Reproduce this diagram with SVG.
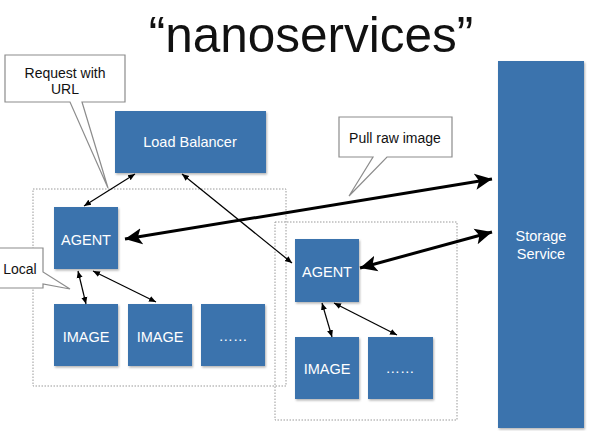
<svg xmlns="http://www.w3.org/2000/svg" width="593" height="431" viewBox="0 0 593 431">
<defs>
<marker id="ah" markerWidth="8" markerHeight="8" refX="7" refY="4" orient="auto-start-reverse" markerUnits="userSpaceOnUse">
<path d="M0,1 L7,4 L0,7 Z" fill="#000"/>
</marker>
<marker id="ahb" markerWidth="20" markerHeight="18" refX="17" refY="9" orient="auto-start-reverse" markerUnits="userSpaceOnUse">
<path d="M0,1 L17,9 L0,17 L4,9 Z" fill="#000"/>
</marker>
<filter id="sh" x="-10%" y="-10%" width="130%" height="130%">
<feDropShadow dx="1" dy="1.5" stdDeviation="1" flood-color="#000" flood-opacity="0.3"/>
</filter>
</defs>
<style>
.box{fill:#3b73ad;filter:url(#sh)}
.lbl{font-family:"Liberation Sans",Arial,sans-serif;font-size:14.5px;fill:#fff;text-anchor:middle}
.call{fill:#fff;stroke:#8c8c8c;stroke-width:1.2}
.ctxt{font-family:"Liberation Sans",Arial,sans-serif;font-size:14px;fill:#111;text-anchor:middle}
.cont{fill:none;stroke:#999;stroke-width:1;stroke-dasharray:1.5,1.5}
.thin{stroke:#000;stroke-width:1.2;fill:none;marker-start:url(#ah);marker-end:url(#ah)}
.thick{stroke:#000;stroke-width:3;fill:none;marker-start:url(#ahb);marker-end:url(#ahb)}
</style>
<rect width="593" height="431" fill="#fff"/>
<text x="311" y="52" font-family="Liberation Sans,Arial,sans-serif" font-size="49.5" fill="#111" text-anchor="middle">“nanoservices”</text>

<g id="container1"><rect class="cont" x="33" y="189" width="253" height="197"/></g>
<g id="container2"><rect class="cont" x="275" y="222" width="182" height="198"/></g>

<g id="callout-request"><path class="call" d="M5,55 H125 V102 H82 L108,188 L70,102 H5 Z"/><text class="ctxt" x="65" y="78">Request with</text><text class="ctxt" x="65" y="94">URL</text></g>
<g id="callout-local"><path class="call" d="M-2,248 H43 V272 L70,289 L43,284 V288 H-2 Z"/><text class="ctxt" x="20" y="274">Local</text></g>
<g id="callout-pull"><path class="call" d="M339,117 H452 V157 H387 L349,196 L373,157 H339 Z"/><text class="ctxt" x="395" y="143">Pull raw image</text></g>

<g id="load-balancer"><rect class="box" x="115" y="111" width="151" height="62"/><text class="lbl" x="190" y="147">Load Balancer</text></g>
<g id="agent1"><rect class="box" x="54" y="207" width="64" height="62"/><text class="lbl" x="86" y="245">AGENT</text></g>
<g id="image1"><rect class="box" x="54" y="304" width="64" height="62"/><text class="lbl" x="86" y="342">IMAGE</text></g>
<g id="image2"><rect class="box" x="128" y="304" width="64" height="62"/><text class="lbl" x="160" y="342">IMAGE</text></g>
<g id="more1"><rect class="box" x="201" y="304" width="64" height="62"/><text class="lbl" x="233" y="341">……</text></g>
<g id="agent2"><rect class="box" x="295" y="239" width="64" height="63"/><text class="lbl" x="327" y="277">AGENT</text></g>
<g id="image3"><rect class="box" x="295" y="337" width="64" height="62"/><text class="lbl" x="327" y="374">IMAGE</text></g>
<g id="more2"><rect class="box" x="368" y="337" width="65" height="62"/><text class="lbl" x="400" y="373">……</text></g>
<g id="storage"><rect class="box" x="498" y="61" width="86" height="367"/><text class="lbl" x="541" y="241">Storage</text><text class="lbl" x="541" y="259">Service</text></g>

<g id="connectors">
<line class="thin" x1="84" y1="206" x2="135" y2="174"/>
<line class="thin" x1="182" y1="174" x2="292" y2="263"/>
<line class="thin" x1="78" y1="271" x2="86" y2="304"/>
<line class="thin" x1="93" y1="271" x2="156" y2="302"/>
<line class="thin" x1="322" y1="303" x2="332" y2="337"/>
<line class="thin" x1="334" y1="303" x2="397" y2="335"/>
<line class="thick" x1="125" y1="239" x2="492" y2="179"/>
<line class="thick" x1="360" y1="268" x2="492" y2="232"/>
</g>
</svg>
